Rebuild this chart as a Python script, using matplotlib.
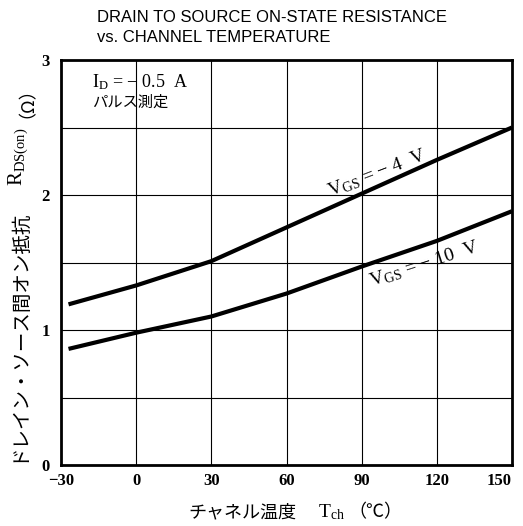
import matplotlib
matplotlib.use("Agg")
import matplotlib.pyplot as plt
import numpy as np

plt.rcParams['mathtext.fontset'] = 'custom'
plt.rcParams['mathtext.rm'] = 'Liberation Serif'
plt.rcParams['mathtext.it'] = 'Liberation Serif'

# Data
temp = [-27, 0, 30, 60, 90, 120, 150]
r_vgs4 = [1.19, 1.33, 1.51, 1.76, 2.01, 2.26, 2.50]
r_vgs10 = [0.86, 0.98, 1.10, 1.27, 1.47, 1.66, 1.88]
xticks = [-30, 0, 30, 60, 90, 120, 150]
xticklabels = ['−30', '0', '30', '60', '90', '120', '150']
yticks = [0, 1, 2, 3]

CJK = ['Noto Sans CJK JP', 'DejaVu Sans']
SERIF = ['Liberation Serif', 'DejaVu Serif']
SANS = ['Liberation Sans', 'DejaVu Sans']

fig = plt.figure(figsize=(5.23, 5.26), dpi=100)
ax = fig.add_axes([61/523, 61/526, (512-61)/523, (465-60)/526])

ax.plot(temp, r_vgs4, color='black', lw=3.0, solid_capstyle='butt')
ax.plot(temp, r_vgs10, color='black', lw=3.0, solid_capstyle='butt')

ax.set_xlim(-30, 150)
ax.set_ylim(0, 3)
ax.set_xticks(xticks)
ax.set_xticklabels(xticklabels, fontfamily=SERIF, fontsize=12, fontweight='bold')
labs = ax.get_xticklabels()
labs[-1].set_ha('right')
labs[-1].set_x(150)
ax.set_yticks(yticks)
ax.set_yticklabels([str(v) for v in yticks], fontfamily=SERIF, fontsize=12, fontweight='bold')
ax.set_yticks(np.arange(0, 3.01, 0.5), minor=True)
ax.tick_params(which='both', length=0, pad=6)
ax.tick_params(axis='y', pad=8)
ax.grid(True, which='major', axis='x', color='black', lw=0.8)
ax.grid(True, which='both', axis='y', color='black', lw=0.8)
for s in ax.spines.values():
    s.set_linewidth(2.0)

# Title
fig.text(97/523, 1-17/526, 'DRAIN TO SOURCE ON-STATE RESISTANCE',
         fontfamily=SANS, fontsize=12, ha='left', va='center')
fig.text(97/523, 1-38/526, 'vs. CHANNEL TEMPERATURE',
         fontfamily=SANS, fontsize=12, ha='left', va='center')

# Inside annotations
ax.text(-17.6, 2.835, r'I$_{\mathrm{D}}$ = − 0.5  A', fontfamily=SERIF, fontsize=13, ha='left', va='center')
ax.text(-17.6, 2.69, 'パルス測定', fontfamily=CJK, fontsize=11, ha='left', va='center')
ax.text(96, 2.16, r'V$_{\mathrm{GS}}$ = − 4  V', fontfamily=SERIF, fontsize=14, ha='center', va='center', rotation=21)
ax.text(115, 1.49, r'V$_{\mathrm{GS}}$ = − 10  V', fontfamily=SERIF, fontsize=14, ha='center', va='center', rotation=18)

# Axis labels
fig.text(188/523, 1-512/526, 'チャネル温度', fontfamily=CJK, fontsize=13, ha='left', va='center')
fig.text(318/523, 1-512/526, r'T$_{\mathrm{ch}}$', fontfamily=SERIF, fontsize=14, ha='left', va='center')
fig.text(348/523, 1-512/526, '（℃）', fontfamily=CJK, fontsize=13, ha='left', va='center')

fig.text(18/523, 1-335/526, 'ドレイン・ソース間オン抵抗', fontfamily=CJK, fontsize=14, ha='center', va='center', rotation=90)
fig.text(18/523, 1-157/526, r'R$_{\mathrm{DS(on)}}$', fontfamily=SERIF, fontsize=15, ha='center', va='center', rotation=90)
fig.text(18/523, 1-93/526, '（Ω）', fontfamily=CJK, fontsize=13, ha='center', va='center', rotation=90)

fig.savefig('out.png', dpi=100)
